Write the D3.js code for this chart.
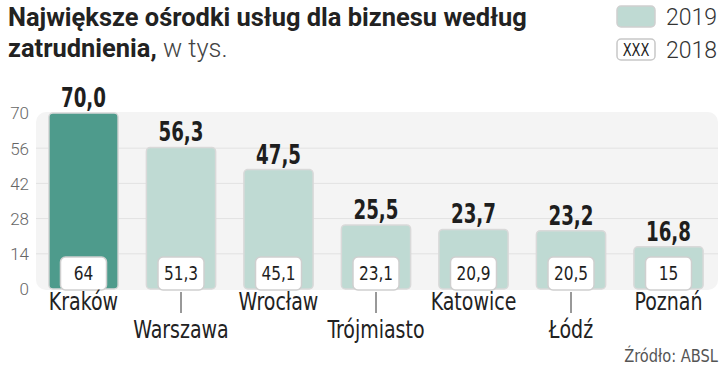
<!DOCTYPE html>
<html><head><meta charset="utf-8">
<script src="https://cdn.jsdelivr.net/npm/d3@7"></script>
<style>
body{margin:0;background:#fff;}
svg{display:block;}
</style></head>
<body>
<svg id="c" width="720" height="368"></svg>
<script>
const categories = ["Kraków","Warszawa","Wrocław","Trójmiasto","Katowice","Łódź","Poznań"];
const values2019 = [70.0,56.3,47.5,25.5,23.7,23.2,16.8];
const values2018 = ["64","51,3","45,1","23,1","20,9","20,5","15"];
const yTicks = [0,14,28,42,56,70];
const titleLine1 = "Największe ośrodki usług dla biznesu według";
const titleLine2Bold = "zatrudnienia,";
const titleLine2Light = " w tys.";
const legendLabels = ["2019","2018"];
const sourceText = "Źródło: ABSL";

const svg = d3.select("#c");
const x = d3.scaleBand().domain(categories).range([34.75,717.25]).paddingInner(0.29).paddingOuter(0.145);
const y = d3.scaleLinear().domain([0,70]).range([289,113]);
const fmt = v => d3.format(".1f")(v).replace(".",",");
const COND = "'DejaVu Sans Condensed','DejaVu Sans',sans-serif";
const squeeze = (cx,f) => `translate(${cx},0) scale(${f},1) translate(${-cx},0)`;

// panel
svg.append("rect").attr("x",36).attr("y",y(70)-1).attr("width",682).attr("height",y(0)-y(70)+2)
  .attr("rx",10).attr("fill","#f4f4f4");
// grid
svg.append("g").selectAll("line").data(yTicks.filter(d=>d>0 && d<70)).join("line")
  .attr("x1",36).attr("x2",718).attr("y1",d=>y(d)).attr("y2",d=>y(d))
  .attr("stroke","#e2e2e2").attr("stroke-width",1);
// y axis labels
const yAxis = d3.axisLeft(y).tickValues(yTicks).tickSize(0).tickPadding(0);
const ga = svg.append("g").attr("transform","translate(29,0)").call(yAxis);
ga.select(".domain").remove();
ga.selectAll("text").attr("font-family","Roboto,sans-serif").attr("font-weight",300)
  .attr("font-size",17).attr("fill","#666").attr("dy","0.35em");

// bars
svg.append("g").selectAll("rect").data(categories).join("rect")
  .attr("x",d=>x(d)).attr("width",x.bandwidth())
  .attr("y",(d,i)=>y(values2019[i])).attr("height",(d,i)=>y(0)-y(values2019[i]))
  .attr("rx",4).attr("fill",(d,i)=>i===0?"#4e9b8c":"#bfdad3")
  .attr("stroke","#d9d9d9").attr("stroke-width",1.5);

// value labels
svg.append("g").selectAll("text").data(categories).join("text")
  .attr("x",d=>x(d)+x.bandwidth()/2).attr("y",(d,i)=>y(values2019[i])-6)
  .attr("transform",d=>squeeze(x(d)+x.bandwidth()/2,0.78))
  .attr("text-anchor","middle").attr("font-family",COND).attr("font-weight",700)
  .attr("font-size",26).attr("fill","#1e1e1e").text((d,i)=>fmt(values2019[i]));

// 2018 boxes
const bw = 46;
svg.append("g").selectAll("rect").data(categories).join("rect")
  .attr("x",d=>x(d)+x.bandwidth()/2-bw/2).attr("width",bw)
  .attr("y",257).attr("height",33).attr("rx",5)
  .attr("fill","#fff").attr("stroke","#cfcfcf").attr("stroke-width",1.5);
svg.append("g").selectAll("text").data(categories).join("text")
  .attr("x",d=>x(d)+x.bandwidth()/2).attr("y",280)
  .attr("transform",d=>squeeze(x(d)+x.bandwidth()/2,0.9))
  .attr("text-anchor","middle").attr("font-family",COND).attr("font-weight",400)
  .attr("font-size",19).attr("fill","#1e1e1e").text((d,i)=>values2018[i]);

// category labels
const gc = svg.append("g");
categories.forEach((c,i)=>{
  const cx = x(c)+x.bandwidth()/2;
  const low = i%2===1;
  if(low){
    gc.append("line").attr("x1",cx).attr("x2",cx).attr("y1",292).attr("y2",313)
      .attr("stroke","#333").attr("stroke-width",1);
  }
  gc.append("text").attr("x",cx).attr("y",low?338:310).attr("text-anchor","middle")
    .attr("transform",squeeze(cx,0.88))
    .attr("font-family",COND).attr("font-size",24).attr("fill","#222").text(c);
});

// title
const t1 = svg.append("text").attr("x",8).attr("y",26).attr("font-family","Roboto,sans-serif")
  .attr("font-weight",700).attr("font-size",26).attr("fill","#222").text(titleLine1);
const w1 = t1.node().getComputedTextLength();
const sx = 519/w1;
t1.attr("transform",squeeze(8,sx));
const t2 = svg.append("text").attr("x",8).attr("y",57).attr("font-family","Roboto,sans-serif")
  .attr("font-size",26).attr("fill","#222")
  .attr("transform",squeeze(8,sx));
t2.append("tspan").attr("font-weight",700).text(titleLine2Bold);
t2.append("tspan").attr("font-weight",300).attr("fill","#444").text(titleLine2Light);

// legend
const lg = svg.append("g");
lg.append("rect").attr("x",617).attr("y",6).attr("width",38).attr("height",21).attr("rx",4)
  .attr("fill","#bfdad3").attr("stroke","#d0d0d0").attr("stroke-width",1.5);
lg.append("rect").attr("x",617).attr("y",39).attr("width",38).attr("height",21).attr("rx",4)
  .attr("fill","#fff").attr("stroke","#c8c8c8").attr("stroke-width",1.5);
lg.append("text").attr("x",636).attr("y",56).attr("text-anchor","middle").attr("font-family",COND)
  .attr("transform",squeeze(636,0.85))
  .attr("font-size",17).attr("fill","#222").text("XXX");
lg.selectAll("text.l").data(legendLabels).join("text").attr("class","l")
  .attr("x",666).attr("y",(d,i)=>25+i*33).attr("font-family","Roboto,sans-serif").attr("font-weight",300)
  .attr("font-size",23).attr("fill","#333").text(d=>d);

// source
svg.append("text").attr("x",718).attr("y",362).attr("text-anchor","end")
  .attr("transform",squeeze(718,0.88))
  .attr("font-family",COND).attr("font-size",18.5).attr("fill","#555").text(sourceText);
</script>
</body></html>
